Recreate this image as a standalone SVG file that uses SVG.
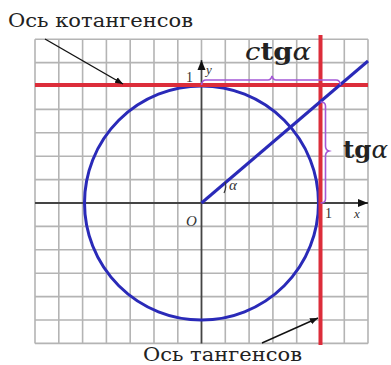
<svg xmlns="http://www.w3.org/2000/svg" width="391" height="365" viewBox="0 0 391 365">
<defs>
<marker id="ah" viewBox="0 0 10 10" refX="10" refY="5" markerWidth="8" markerHeight="8" markerUnits="userSpaceOnUse" orient="auto"><path d="M0,1 L10,5 L0,9 Z" fill="#111"/></marker>
<marker id="axh" viewBox="0 0 10 10" refX="10" refY="5" markerWidth="13" markerHeight="10" markerUnits="userSpaceOnUse" orient="auto"><path d="M0,1 L10,5 L0,9 Z" fill="#111"/></marker>
<style>
.grid{stroke:#b4b4b4;stroke-width:1.6;fill:none}
.axis{stroke:#444;stroke-width:1.8;fill:none}
.red{stroke:#dc2d3a;stroke-width:4;fill:none}
.blue{stroke:#2a2ab8;stroke-width:3;fill:none}
.pur{stroke:#a458d6;stroke-width:1.6;fill:none}
.lbl{font-family:"DejaVu Serif","Liberation Serif",serif;fill:#222}
.ax{font-family:"Liberation Serif",serif;fill:#333}
.ptr{stroke:#111;stroke-width:1.4;fill:none}
</style>
</defs>
<g id="grid">
<path class="grid" d="M35,39.2V343.4M58.8,39.2V343.4M82.6,39.2V343.4M106.4,39.2V343.4M130.2,39.2V343.4M154,39.2V343.4M177.8,39.2V343.4M201.5,39.2V60M225.3,39.2V343.4M249.1,39.2V343.4M272.9,39.2V343.4M296.7,39.2V343.4M344.3,39.2V343.4M368,39.2V343.4"/>
<path class="grid" d="M35,39.2H368M35,62.6H368M35,109.4H368M35,132.8H368M35,156.2H368M35,179.6H368M35,226.4H368M35,249.8H368M35,273.2H368M35,296.6H368M35,320H368M35,343.4H368"/>
</g>
<g id="axes">
<line class="axis" x1="201.5" y1="343.4" x2="201.5" y2="60" marker-end="url(#axh)"/>
<line class="axis" x1="35" y1="203" x2="368" y2="203" marker-end="url(#axh)"/>
<text class="ax" x="186" y="82" font-size="14">1</text>
<text class="ax" x="206" y="74" font-size="13" font-style="italic">y</text>
<text class="ax" x="186" y="226" font-size="15" font-style="italic">O</text>
<text class="ax" x="325" y="218" font-size="14">1</text>
<text class="ax" x="354" y="218" font-size="13" font-style="italic">x</text>
</g>
<g id="circle">
<circle class="blue" cx="201.5" cy="203" r="117"/>
</g>
<g id="cotangent-axis">
<line class="red" x1="35" y1="85" x2="368" y2="85"/>
</g>
<g id="tangent-axis">
<line class="red" x1="320.5" y1="35" x2="320.5" y2="345"/>
</g>
<g id="ray">
<line class="blue" x1="201.5" y1="203" x2="368" y2="61"/>
<path d="M224,193 Q227,187 225,182" stroke="#333" stroke-width="1.2" fill="none"/>
<text class="ax" x="229" y="190" font-size="15" font-style="italic">α</text>
</g>
<g id="ctg-brace">
<path class="pur" d="M201.5,85 Q202,80 206,80 H268 Q271,80 272,76 Q273,80 276,80 H336 Q340,80 340.5,85"/>
<text class="lbl" x="245" y="60" font-size="24" textLength="66" lengthAdjust="spacingAndGlyphs"><tspan font-style="italic">c</tspan><tspan font-weight="bold">tg</tspan><tspan font-style="italic">α</tspan></text>
</g>
<g id="tg-brace">
<path class="pur" d="M320.5,102 Q325.5,102 325.5,106 V146 Q325.5,150 329,151 Q325.5,152 325.5,156 V199 Q325.5,203 320.5,203"/>
<text class="lbl" x="343" y="158" font-size="24" textLength="45" lengthAdjust="spacingAndGlyphs"><tspan font-weight="bold">tg</tspan><tspan font-style="italic">α</tspan></text>
</g>
<g id="connectors">
<line class="ptr" x1="45" y1="39" x2="123" y2="84" marker-end="url(#ah)"/>
<line class="ptr" x1="262" y1="343" x2="318" y2="318" marker-end="url(#ah)"/>
</g>
<g id="labels">
<text class="lbl" x="8" y="27" font-size="19" textLength="185" lengthAdjust="spacingAndGlyphs">Ось котангенсов</text>
<text class="lbl" x="143" y="361" font-size="19" textLength="159" lengthAdjust="spacingAndGlyphs">Ось тангенсов</text>
</g>
</svg>
